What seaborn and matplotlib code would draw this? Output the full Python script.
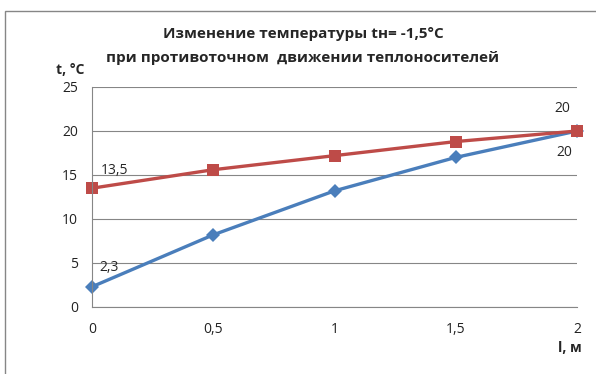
import numpy as np
import pandas as pd
import matplotlib
matplotlib.use("Agg")
import matplotlib.pyplot as plt
import seaborn as sns
from matplotlib.ticker import FuncFormatter
from matplotlib.patches import Rectangle

# data
length = [0, 0.5, 1, 1.5, 2]
t_blue = [2.3, 8.2, 13.2, 17.0, 20.0]
t_red = [13.5, 15.6, 17.2, 18.8, 20.0]
x_ticks = [0, 0.5, 1, 1.5, 2]
y_ticks = [0, 5, 10, 15, 20, 25]

sns.set_theme(style="white")
plt.rcParams['font.family'] = ['Open Sans', 'DejaVu Sans']

fig = plt.figure(figsize=(5.96, 3.74), dpi=100)
ax = fig.add_axes([92 / 596, 1 - 307 / 374, (577 - 92) / 596, (307 - 87) / 374])

# outer chart border
fig.patches.append(Rectangle((5 / 596, -0.01), 1.0, 1 - 11 / 374 + 0.01, transform=fig.transFigure,
                             fill=False, edgecolor='#868686', linewidth=1.0))

df = pd.DataFrame({'l': length * 2, 't': t_blue + t_red,
                   'series': ['blue'] * 5 + ['red'] * 5})
sns.lineplot(data=df[df.series == 'blue'], x='l', y='t', ax=ax, color='#4A7EBB',
             linewidth=2.4, marker='D', markersize=7, markeredgewidth=0, clip_on=False)
sns.lineplot(data=df[df.series == 'red'], x='l', y='t', ax=ax, color='#BE4B48',
             linewidth=2.4, marker='s', markersize=9, markeredgewidth=0, clip_on=False)

ax.set_xlim(0, 2)
ax.set_ylim(0, 25)
ax.set_xticks(x_ticks)
ax.set_yticks(y_ticks)
comma = FuncFormatter(lambda v, p: ('%g' % v).replace('.', ','))
ax.xaxis.set_major_formatter(comma)
ax.yaxis.set_major_formatter(comma)
ax.set_xlabel('')
ax.set_ylabel('')
ax.grid(axis='y', color='#868686', linewidth=0.8)
ax.grid(axis='x', visible=False)
for s in ['top', 'right']:
    ax.spines[s].set_visible(False)
for s in ['left', 'bottom']:
    ax.spines[s].set_color('#868686')
    ax.spines[s].set_linewidth(0.8)
ax.tick_params(axis='both', which='major', length=4, width=0.8, color='#868686',
               labelsize=10, labelcolor='#222222', direction='out')
ax.tick_params(axis='x', pad=7)
ax.tick_params(axis='y', pad=6)
ax.set_axisbelow(True)

# data labels
ax.annotate('13,5', (length[0], t_red[0]), xytext=(6, 10), textcoords='offset points', fontsize=10)
ax.annotate('2,3', (length[0], t_blue[0]), xytext=(5, 11), textcoords='offset points', fontsize=10)
ax.annotate('20', (length[-1], t_red[-1]), xytext=(-16, 14), textcoords='offset points', fontsize=10)
ax.annotate('20', (length[-1], t_blue[-1]), xytext=(-15, -18), textcoords='offset points', fontsize=10)

fig.text(303 / 596, 1 - 34 / 374, 'Изменение температуры tн= -1,5°C', ha='center', va='center',
         fontsize=11, fontweight='bold')
fig.text(303 / 596, 1 - 58 / 374, 'при противоточном  движении теплоносителей', ha='center',
         va='center', fontsize=11, fontweight='bold')
fig.text(56 / 596, 1 - 70 / 374, 't, °C', ha='left', va='center', fontsize=10, fontweight='bold')
fig.text(582 / 596, 1 - 348 / 374, 'l, м', ha='right', va='center', fontsize=10, fontweight='bold')

fig.savefig('out.png', dpi=100)
